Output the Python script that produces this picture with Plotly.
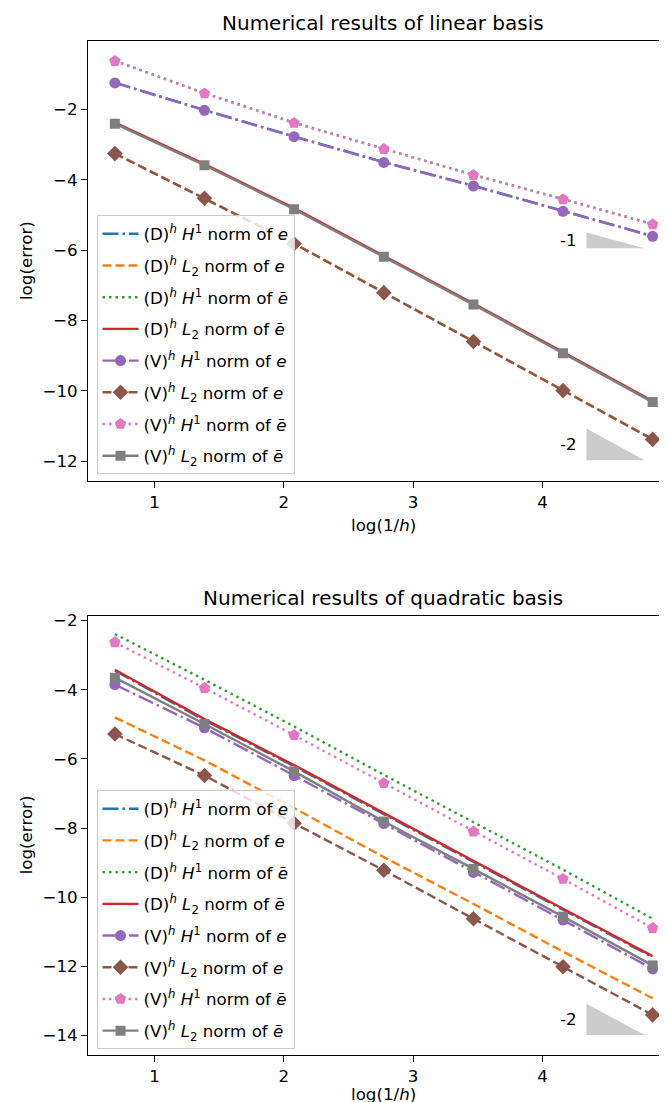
import plotly.graph_objects as go

# ---------------- data ----------------
x_vals = [0.693, 1.386, 2.079, 2.773, 3.466, 4.159, 4.852]

# linear basis
lin_D_H1_e = [-1.24, -2.02, -2.77, -3.50, -4.17, -4.89, -5.60]
lin_D_L2_e = [-3.25, -4.52, -5.81, -7.20, -8.59, -9.98, -11.37]
lin_D_H1_et = [-0.62, -1.54, -2.38, -3.12, -3.86, -4.55, -5.26]
lin_D_L2_et = [-2.38, -3.56, -4.81, -6.16, -7.52, -8.90, -10.29]
lin_V_H1_e = [-1.25, -2.03, -2.78, -3.51, -4.18, -4.90, -5.61]
lin_V_L2_e = [-3.26, -4.53, -5.82, -7.21, -8.60, -9.99, -11.38]
lin_V_H1_et = [-0.63, -1.55, -2.39, -3.13, -3.87, -4.56, -5.27]
lin_V_L2_et = [-2.41, -3.59, -4.84, -6.19, -7.55, -8.93, -10.32]

# quadratic basis
quad_D_H1_e = [-3.45, -4.88, -6.21, -7.60, -8.98, -10.36, -11.73]
quad_D_L2_e = [-4.80, -6.04, -7.42, -8.84, -10.19, -11.57, -12.92]
quad_D_H1_et = [-2.39, -3.71, -5.06, -6.46, -7.83, -9.20, -10.62]
quad_D_L2_et = [-3.42, -4.85, -6.18, -7.57, -8.95, -10.33, -11.70]
quad_V_H1_e = [-3.85, -5.10, -6.48, -7.87, -9.28, -10.66, -12.07]
quad_V_L2_e = [-5.28, -6.48, -7.86, -9.22, -10.62, -12.01, -13.40]
quad_V_H1_et = [-2.63, -3.95, -5.31, -6.70, -8.10, -9.47, -10.89]
quad_V_L2_et = [-3.65, -4.99, -6.36, -7.81, -9.18, -10.56, -11.97]

# slope triangles: (x_left, x_right, base_y, slope, label)
lin_triangles = [(4.34, 4.79, -5.95, -1, "-1"), (4.34, 4.79, -11.97, -2, "-2")]
quad_triangles = [(4.34, 4.79, -13.98, -2, "-2")]

labels = [
    "(D)<sup><i>h</i></sup> <i>H</i><sup>1</sup> norm of <i>e</i>",
    "(D)<sup><i>h</i></sup> <i>L</i><sub>2</sub> norm of <i>e</i>",
    "(D)<sup><i>h</i></sup> <i>H</i><sup>1</sup> norm of <i>ẽ</i>",
    "(D)<sup><i>h</i></sup> <i>L</i><sub>2</sub> norm of <i>ẽ</i>",
    "(V)<sup><i>h</i></sup> <i>H</i><sup>1</sup> norm of <i>e</i>",
    "(V)<sup><i>h</i></sup> <i>L</i><sub>2</sub> norm of <i>e</i>",
    "(V)<sup><i>h</i></sup> <i>H</i><sup>1</sup> norm of <i>ẽ</i>",
    "(V)<sup><i>h</i></sup> <i>L</i><sub>2</sub> norm of <i>ẽ</i>",
]

colors = ["#1f77b4", "#ff7f0e", "#2ca02c", "#d62728",
          "#9467bd", "#8c564b", "#e377c2", "#7f7f7f"]
DASHDOT = "16px,4px,2.5px,4px"
DASHED = "9px,4px"
DOTTED = "2.5px,4px"
dashes = [DASHDOT, DASHED, DOTTED, "solid", DASHDOT, DASHED, DOTTED, "solid"]
markers = [None, None, None, None, "circle", "diamond", "pentagon", "square"]
msizes = [0, 0, 0, 0, 11, 12, 12, 10]

FONT = "DejaVu Sans"
FS = 16.7
fig = go.Figure()


def add_panel(series, xa, ya, legend_name, triangles):
    for i, ys in enumerate(series):
        mode = "lines+markers" if markers[i] else "lines"
        tr = dict(
            x=x_vals, y=ys, mode=mode, name=labels[i],
            line=dict(color=colors[i], width=2.4, dash=dashes[i]),
            xaxis=xa, yaxis=ya, legend=legend_name,
            legendgroup=f"{legend_name}_{i}",
        )
        if markers[i]:
            tr["marker"] = dict(symbol=markers[i], size=msizes[i], color=colors[i],
                                line=dict(width=0))
        fig.add_trace(go.Scatter(**tr))
    for (x0, x1, yb, slope, lab) in triangles:
        ytop = yb - slope * (x1 - x0)
        fig.add_trace(go.Scatter(
            x=[x0, x1, x0, x0], y=[yb, yb, ytop, yb], mode="lines",
            fill="toself", fillcolor="#cccccc", line=dict(width=0, color="#cccccc"),
            showlegend=False, hoverinfo="skip", xaxis=xa, yaxis=ya))
        fig.add_annotation(x=x0 - 0.22, y=(yb + ytop) / 2, text=lab,
                           xref=xa, yref=ya, showarrow=False, xanchor="left",
                           yanchor="middle", font=dict(family=FONT, size=FS, color="black"))


add_panel([lin_D_H1_e, lin_D_L2_e, lin_D_H1_et, lin_D_L2_et,
           lin_V_H1_e, lin_V_L2_e, lin_V_H1_et, lin_V_L2_et], "x", "y", "legend", lin_triangles)
add_panel([quad_D_H1_e, quad_D_L2_e, quad_D_H1_et, quad_D_L2_et,
           quad_V_H1_e, quad_V_L2_e, quad_V_H1_et, quad_V_L2_et], "x2", "y2", "legend2", quad_triangles)

axis_common = dict(showline=True, linecolor="black", linewidth=1, ticks="outside",
                   ticklen=6, tickwidth=1, tickcolor="black", showgrid=False,
                   zeroline=False, automargin=False,
                   tickfont=dict(family=FONT, size=FS, color="black"))

legend_common = dict(bgcolor="rgba(255,255,255,0.8)", bordercolor="#cccccc", borderwidth=1,
                     font=dict(family=FONT, size=FS, color="black"), xanchor="left",
                     yanchor="top", tracegroupgap=7, traceorder="grouped", itemwidth=36)

fig.update_layout(
    width=667, height=1102,
    margin=dict(l=80, r=0, t=33, b=55),
    paper_bgcolor="white", plot_bgcolor="white",
    xaxis=dict(domain=[0, 1], anchor="y", range=[0.485, 5.025], dtick=1, tick0=0,
               mirror=True, **axis_common),
    yaxis=dict(domain=[0.5658, 1], anchor="x", range=[-12.57, -0.06], dtick=2, tick0=0,
               mirror=False, **axis_common),
    xaxis2=dict(domain=[0, 1], anchor="y2", range=[0.485, 5.025], dtick=1, tick0=0,
                mirror=True, **axis_common),
    yaxis2=dict(domain=[0, 0.4332], anchor="x2", range=[-14.56, -1.86], dtick=2, tick0=0,
                mirror=False, **axis_common),
    legend=dict(x=0.0145, y=0.828, **legend_common),
    legend2=dict(x=0.0145, y=0.261, **legend_common),
    showlegend=True,
)

# titles and axis labels
TX = 0.5026
fig.add_annotation(text="Numerical results of linear basis", xref="paper", yref="paper",
                   x=TX, y=1.0, yshift=18, showarrow=False, xanchor="center", yanchor="middle",
                   font=dict(family=FONT, size=20, color="black"))
fig.add_annotation(text="Numerical results of quadratic basis", xref="paper", yref="paper",
                   x=TX, y=0.4332, yshift=18, showarrow=False, xanchor="center", yanchor="middle",
                   font=dict(family=FONT, size=20, color="black"))
fig.add_annotation(text="log(1/<i>h</i>)", xref="paper", yref="paper",
                   x=TX, y=0.5658, yshift=-44, showarrow=False, xanchor="center", yanchor="middle",
                   font=dict(family=FONT, size=FS, color="black"))
fig.add_annotation(text="log(1/<i>h</i>)", xref="paper", yref="paper",
                   x=TX, y=0.0, yshift=-39, showarrow=False, xanchor="center", yanchor="middle",
                   font=dict(family=FONT, size=FS, color="black"))
fig.add_annotation(text="log(error)", xref="paper", yref="paper", textangle=-90,
                   x=0, xshift=-62, y=0.783, showarrow=False, xanchor="center", yanchor="middle",
                   font=dict(family=FONT, size=FS, color="black"))
fig.add_annotation(text="log(error)", xref="paper", yref="paper", textangle=-90,
                   x=0, xshift=-62, y=0.2166, showarrow=False, xanchor="center", yanchor="middle",
                   font=dict(family=FONT, size=FS, color="black"))

fig.write_html("out.html")
